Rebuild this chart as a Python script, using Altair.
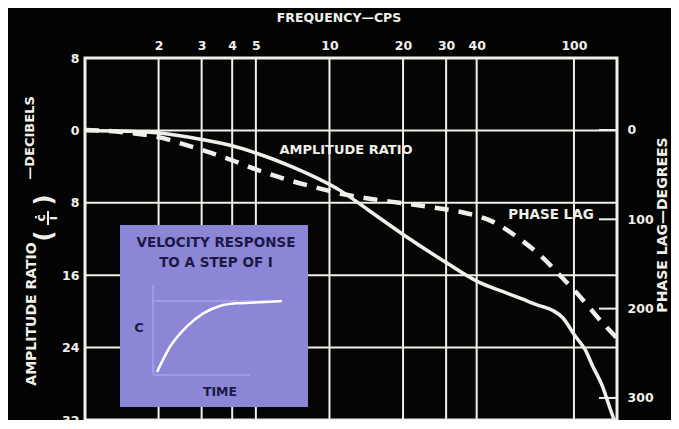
import altair as alt
import pandas as pd

# ---------------- data ----------------
amp_freq = [1, 1.5, 2, 3, 4, 5, 7, 11, 14.6, 20, 30, 41, 51, 61, 71, 82, 90, 101, 111, 120, 130, 140, 146]
amp_db = [0, 0.1, 0.3, 1.0, 1.7, 2.5, 4.0, 6.6, 8.9, 11.5, 14.6, 16.8, 17.8, 18.6, 19.3, 19.9, 20.7, 22.7, 24.2, 26.2, 28.1, 30.6, 32.0]

phase_freq = [1, 1.5, 2, 2.6, 3.3, 4.1, 5.1, 6.6, 8.7, 11, 14.6, 20, 27, 36, 46, 60, 74.5, 90, 107, 130, 150]
phase_deg = [0, 3, 8, 17, 26, 35, 45, 55, 64, 71, 77, 82, 87, 93, 102, 122, 143, 166, 188, 215, 233]

freq_ticks = [2, 3, 4, 5, 10, 20, 30, 40, 100]
db_ticks = [-8, 0, 8, 16, 24, 32]
db_grid = [0, 8, 16, 24]
phase_ticks = [0, 100, 200, 300]

step_t = [0, 0.104, 0.237, 0.37, 0.504, 0.637, 0.824, 1.0]
step_c = [0, 0.356, 0.638, 0.826, 0.93, 0.967, 0.981, 1.0]

# ---------------- styling ----------------
W, H = 532, 362
FONT = "DejaVu Sans"
WHITE = "#f0f0ea"
NAVY = "#1c1a45"
LAV = "#8b86d6"
LAV_LINE = "#a7a2ea"

xs = alt.Scale(type="log", domain=[1, 150], nice=False)
ydb = alt.Scale(domain=[-8, 32], reverse=True, nice=False, zero=False)
yph = alt.Scale(domain=[-80.6, 324.7], reverse=True, nice=False, zero=False)

amp_df = pd.DataFrame({"freq": amp_freq, "db": amp_db})
ph_df = pd.DataFrame({"freq": phase_freq, "deg": phase_deg})
step_df = pd.DataFrame({"t": step_t, "c": step_c})

grid_v = alt.Chart(pd.DataFrame({"freq": freq_ticks})).mark_rule(
    color=WHITE, strokeWidth=2
).encode(x=alt.X("freq:Q", scale=xs, axis=None))

grid_h = alt.Chart(pd.DataFrame({"db": db_grid})).mark_rule(
    color=WHITE, strokeWidth=2
).encode(y=alt.Y("db:Q", scale=ydb, axis=None))

amp = alt.Chart(amp_df).mark_line(
    color=WHITE, strokeWidth=3.5, interpolate="monotone"
).encode(
    x=alt.X("freq:Q", scale=xs,
            axis=alt.Axis(orient="top", values=freq_ticks, title=None,
                          labelExpr="'' + datum.value", labelPadding=6,
                          labelFontSize=12.5, labelFlush=False)),
    y=alt.Y("db:Q", scale=ydb,
            axis=alt.Axis(orient="left", values=db_ticks, title=None,
                          labelExpr="'' + abs(datum.value)", labelPadding=6,
                          labelFontSize=12.5, labelFlush=False)),
)

phase = alt.Chart(ph_df).mark_line(
    color=WHITE, strokeWidth=4.5, strokeDash=[14, 10], interpolate="monotone"
).encode(
    x=alt.X("freq:Q", scale=xs, axis=None),
    y=alt.Y("deg:Q", scale=yph,
            axis=alt.Axis(orient="right", values=phase_ticks, title=None,
                          labelPadding=10, labelFontSize=12.5, labelFlush=False)),
)

phase_tick_marks = alt.Chart(pd.DataFrame({"deg": phase_ticks})).mark_rule(
    color=WHITE, strokeWidth=2
).encode(
    y=alt.Y("deg:Q", scale=yph, axis=None),
    x=alt.value(W - 18), x2=alt.value(W),
)


def label(txt, x, y, size=13, angle=0, color=WHITE):
    return alt.Chart(pd.DataFrame({"label": [txt]})).mark_text(
        font=FONT, fontWeight="bold", fontSize=size, color=color,
        align="center", baseline="middle", angle=angle,
    ).encode(text="label:N", x=alt.value(x), y=alt.value(y))


texts = [
    label("FREQUENCY\u2014CPS", 254, -40, 12.5),
    label("AMPLITUDE RATIO", 261, 92, 13),
    label("PHASE LAG", 466, 157, 13.5),
    label("AMPLITUDE RATIO", -53, 256, 14, 270),
    label("\u2014DECIBELS", -55, 80, 13, 270),
    label("(", -40, 178, 24, 270),
    label(")", -40, 142, 24, 270),
    label("\u010b", -44, 160, 13, 270),
    label("i", -32, 160, 13, 270),
    label("PHASE LAG\u2014DEGREES", 578, 167, 14, 270),
]

frac_bar = alt.Chart(pd.DataFrame({"a": [0]})).mark_rule(
    color=WHITE, strokeWidth=2
).encode(x=alt.value(-37), y=alt.value(153), y2=alt.value(167))

# ---------------- inset ----------------
inset_box = alt.Chart(pd.DataFrame({"a": [0]})).mark_rect(color=LAV).encode(
    x=alt.value(35), x2=alt.value(223), y=alt.value(167), y2=alt.value(349)
)
inset_lines = [
    alt.Chart(pd.DataFrame({"a": [0]})).mark_rule(color=LAV_LINE, strokeWidth=1.5).encode(
        x=alt.value(68), y=alt.value(227), y2=alt.value(316)),
    alt.Chart(pd.DataFrame({"a": [0]})).mark_rule(color=LAV_LINE, strokeWidth=1.5).encode(
        x=alt.value(68), x2=alt.value(197), y=alt.value(243)),
    alt.Chart(pd.DataFrame({"a": [0]})).mark_rule(color=LAV_LINE, strokeWidth=1.5).encode(
        x=alt.value(68), x2=alt.value(165), y=alt.value(317)),
]
inset_curve = alt.Chart(step_df).mark_line(
    color="#ffffff", strokeWidth=2.5, interpolate="monotone"
).encode(
    x=alt.X("t:Q", scale=alt.Scale(domain=[0, 1], range=[72, 197], nice=False, zero=False), axis=None),
    y=alt.Y("c:Q", scale=alt.Scale(domain=[0, 1], range=[314, 243], nice=False, zero=False), axis=None),
)
inset_texts = [
    label("VELOCITY RESPONSE", 131, 185, 13.5, 0, NAVY),
    label("TO A STEP OF I", 131, 205, 13.5, 0, NAVY),
    label("C", 54, 270, 13, 0, NAVY),
    label("TIME", 135, 334, 12.5, 0, NAVY),
]

layers = [grid_v, grid_h, amp, phase, phase_tick_marks, frac_bar] + texts + \
         [inset_box] + inset_lines + [inset_curve] + inset_texts

chart = alt.layer(*layers).resolve_scale(
    x="independent", y="independent"
).properties(
    width=W, height=H,
    autosize=alt.AutoSizeParams(type="none"),
    padding={"left": 77, "top": 50, "right": 54, "bottom": 0},
    background="#030303",
).configure_view(
    stroke=WHITE, strokeWidth=3, fill="#050505"
).configure_axis(
    labelFont=FONT, labelFontWeight="bold", labelColor=WHITE,
    domain=False, ticks=False, grid=False,
)

chart.save("out.html", embed_options={"renderer": "svg", "actions": False})
